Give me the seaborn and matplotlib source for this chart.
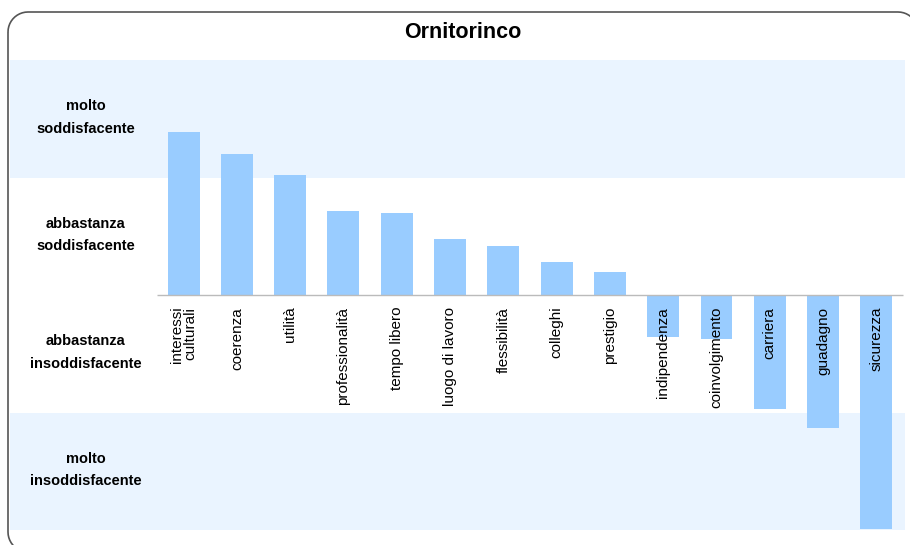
import matplotlib
matplotlib.use("Agg")
import matplotlib.pyplot as plt
import seaborn as sns
import pandas as pd
import numpy as np
from matplotlib.path import Path
from matplotlib.patches import PathPatch

categories = ["interessi\nculturali", "coerenza", "utilità", "professionalità", "tempo libero",
              "luogo di lavoro", "flessibilità", "colleghi", "prestigio", "indipendenza",
              "coinvolgimento", "carriera", "guadagno", "sicurezza"]
values = [1.39, 1.20, 1.02, 0.715, 0.70, 0.477, 0.417, 0.28, 0.196,
          -0.357, -0.374, -0.97, -1.13, -1.99]
band_labels = ["molto\nsoddisfacente", "abbastanza\nsoddisfacente",
               "abbastanza\ninsoddisfacente", "molto\ninsoddisfacente"]
band_centers = [1.5, 0.5, -0.5, -1.5]
title = "Ornitorinco"

sns.set_theme(style="white")
plt.rcParams["font.family"] = ["Liberation Sans", "DejaVu Sans"]

W, H = 910, 545
fig = plt.figure(figsize=(W / 100, H / 100), dpi=100)

# rounded frame drawn as a path in pixel coordinates
r = 20
x0, y0 = 8, 12          # left edge, top edge (pixels from top-left)
xr, yb = 918, 552       # right edge, bottom edge (beyond image)
def arc(cx, cy, a0, a1):
    t = np.linspace(np.radians(a0), np.radians(a1), 12)
    return list(zip(cx + r * np.cos(t), cy + r * np.sin(t)))
pts = []
pts += arc(x0 + r, y0 + r, 180, 270)
pts += arc(xr - r, y0 + r, 270, 360)
pts += arc(xr - r, yb - r, 0, 90)
pts += arc(x0 + r, yb - r, 90, 180)
pts.append(pts[0])
pts = [(px / W, 1 - py / H) for px, py in pts]
frame = PathPatch(Path(pts), transform=fig.transFigure, facecolor="none",
                  edgecolor="#555555", linewidth=1.2, zorder=5)
fig.patches.append(frame)

# axes covering band area: x 10..905 px, y 60..530 px
ax = fig.add_axes([10 / W, 1 - 530 / H, 895 / W, 470 / H])
ax.set_facecolor("none")

df = pd.DataFrame({"cat": categories, "val": values})
sns.barplot(data=df, x="cat", y="val", color="#99CCFF", width=0.6,
            saturation=1, linewidth=0, ax=ax, zorder=2)

ax.axhspan(1, 2, color="#EAF4FF", zorder=0, lw=0)
ax.axhspan(-2, -1, color="#EAF4FF", zorder=0, lw=0)
ax.hlines(0, -0.5, 13.5, color="#BBBBBB", lw=1, zorder=3)

ax.set_xlim(-0.5 - 147 / 53.3, 13.5 + 2 / 53.3)
ax.set_ylim(-2, 2)
ax.set_xticks([])
ax.set_yticks([])
ax.set_xlabel("")
ax.set_ylabel("")
for s in ax.spines.values():
    s.set_visible(False)

for i, c in enumerate(categories):
    ax.text(i, -0.1, c, rotation=90, ha="center", va="top", fontsize=11,
            color="black", multialignment="right", linespacing=1.0, zorder=4)

for lab, yc in zip(band_labels, band_centers):
    ax.text(-0.5 - 147 / 53.3 + 76 / 53.3, yc + 0.01, lab, ha="center", va="center",
            fontsize=10.5, fontweight="bold", color="black", linespacing=1.75)

fig.text(463 / W, 1 - 33 / H, title, ha="center", va="center",
         fontsize=15.5, fontweight="heavy", color="black")

fig.savefig("out.png", dpi=100)
